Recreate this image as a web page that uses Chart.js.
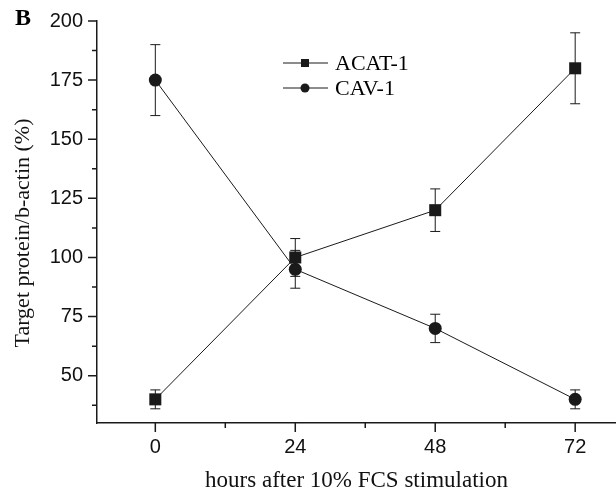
<!DOCTYPE html>
<html>
<head>
<meta charset="utf-8">
<script src="https://cdn.jsdelivr.net/npm/chart.js@4.4.1/dist/chart.umd.min.js"></script>
<style>
  html, body { margin: 0; padding: 0; background: #fff; overflow: hidden; }
  #wrap { width: 616px; height: 496px; }
</style>
</head>
<body>
<div id="wrap"><canvas id="time-chart"></canvas></div>
<script>
// values
const hours = [0, 24, 48, 72];
const acat = [40, 100, 120, 180];
const acatErr = [4, 8, 9, 15];
const cav = [175, 95, 70, 40];
const cavErr = [15, 8, 6, 4];

const xTicks = [0, 12, 24, 36, 48, 60, 72];
const xLabelled = [0, 24, 48, 72];
const yTicks = [37.5, 50, 62.5, 75, 87.5, 100, 112.5, 125, 137.5, 150, 162.5, 175, 187.5, 200];
const yLabelled = [50, 75, 100, 125, 150, 175, 200];

const ink = '#1a1a1a';

// error bars drawn through the chart scales
const errorBars = {
    id: 'errorBars',
    beforeDatasetsDraw(chart) {
        const ctx = chart.ctx;
        const xs = chart.scales.x, ys = chart.scales.y;
        ctx.save();
        ctx.strokeStyle = ink;
        ctx.lineWidth = 1;
        chart.data.datasets.forEach(ds => {
            ds.data.forEach((p, i) => {
                const px = xs.getPixelForValue(p.x);
                const top = ys.getPixelForValue(p.y + ds.err[i]);
                const bot = ys.getPixelForValue(p.y - ds.err[i]);
                ctx.beginPath();
                ctx.moveTo(px, top); ctx.lineTo(px, bot);
                ctx.moveTo(px - 5, top); ctx.lineTo(px + 5, top);
                ctx.moveTo(px - 5, bot); ctx.lineTo(px + 5, bot);
                ctx.stroke();
            });
        });
        ctx.restore();
    }
};

// outward ticks, long for labelled values and short for the others
const axisTicks = {
    id: 'axisTicks',
    afterDraw(chart) {
        const ctx = chart.ctx;
        const xs = chart.scales.x, ys = chart.scales.y;
        const area = chart.chartArea;
        ctx.save();
        ctx.strokeStyle = ink;
        ctx.lineWidth = 1.5;
        ctx.beginPath();
        xTicks.forEach(v => {
            const px = xs.getPixelForValue(v);
            const len = xLabelled.includes(v) ? 9 : 5;
            ctx.moveTo(px, area.bottom); ctx.lineTo(px, area.bottom + len);
        });
        yTicks.forEach(v => {
            const py = ys.getPixelForValue(v);
            const len = yLabelled.includes(v) ? 9 : 5;
            ctx.moveTo(area.left, py); ctx.lineTo(area.left - len, py);
        });
        ctx.stroke();
        ctx.restore();
    }
};

// inset legend and panel letter
const insetLegend = {
    id: 'insetLegend',
    afterDraw(chart) {
        const ctx = chart.ctx;
        ctx.save();
        ctx.fillStyle = '#000';
        ctx.font = 'bold 24px "Liberation Serif"';
        ctx.textBaseline = 'middle';
        ctx.fillText('B', 15, 19);

        ctx.font = '22px "Liberation Serif"';
        chart.data.datasets.forEach((ds, i) => {
            const y = 63 + i * 25;
            ctx.strokeStyle = ink;
            ctx.lineWidth = 1;
            ctx.beginPath();
            ctx.moveTo(283, y); ctx.lineTo(328, y);
            ctx.stroke();
            ctx.fillStyle = ink;
            if (ds.pointStyle === 'rect') {
                ctx.fillRect(301, y - 4, 8, 8);
            } else {
                ctx.beginPath();
                ctx.arc(305, y, 4.5, 0, Math.PI * 2);
                ctx.fill();
            }
            ctx.fillStyle = '#000';
            ctx.fillText(ds.label, 335, y + 1);
        });
        ctx.restore();
    }
};

new Chart(document.getElementById('time-chart'), {
    type: 'line',
    data: {
        datasets: [
            {
                label: 'ACAT-1',
                data: hours.map((h, i) => ({ x: h, y: acat[i] })),
                err: acatErr,
                borderColor: ink,
                borderWidth: 1,
                backgroundColor: ink,
                pointStyle: 'rect',
                pointRadius: 8.5,
                pointBorderWidth: 0,
                tension: 0
            },
            {
                label: 'CAV-1',
                data: hours.map((h, i) => ({ x: h, y: cav[i] })),
                err: cavErr,
                borderColor: ink,
                borderWidth: 1,
                backgroundColor: ink,
                pointStyle: 'circle',
                pointRadius: 6.5,
                pointBorderWidth: 0,
                tension: 0
            }
        ]
    },
    options: {
        responsive: true,
        maintainAspectRatio: false,
        animation: false,
        layout: { autoPadding: false, padding: { top: 21, right: 0, bottom: 0, left: 0 } },
        plugins: {
            legend: { display: false },
            tooltip: { enabled: false }
        },
        scales: {
            x: {
                type: 'linear',
                min: -10,
                max: 79,
                afterBuildTicks: s => { s.ticks = xTicks.map(v => ({ value: v })); },
                afterFit: s => { s.height = 73; s.paddingLeft = 0; s.paddingRight = 0; },
                grid: { display: false, drawTicks: false },
                border: { display: true, color: ink, width: 1.5 },
                ticks: {
                    padding: 12,
                    color: '#111',
                    font: { family: '"Liberation Sans"', size: 20 },
                    maxRotation: 0,
                    callback: v => xLabelled.includes(v) ? String(v) : ''
                },
                title: {
                    display: true,
                    text: 'hours after 10% FCS stimulation',
                    color: '#111',
                    font: { family: '"Liberation Serif"', size: 23 },
                    padding: { top: 0, bottom: 1 }
                }
            },
            y: {
                min: 30,
                max: 200,
                afterBuildTicks: s => { s.ticks = yTicks.map(v => ({ value: v })); },
                afterFit: s => { s.width = 97; s.paddingTop = 0; s.paddingBottom = 0; },
                grid: { display: false, drawTicks: false },
                border: { display: true, color: ink, width: 1.5 },
                ticks: {
                    padding: 14,
                    color: '#111',
                    font: { family: '"Liberation Sans"', size: 20 },
                    callback: v => yLabelled.includes(v) ? String(v) : ''
                },
                title: {
                    display: true,
                    text: 'Target protein/b-actin (%)    ',
                    color: '#111',
                    font: { family: '"Liberation Serif"', size: 22 },
                    padding: { top: 10, bottom: 0 }
                }
            }
        }
    },
    plugins: [errorBars, axisTicks, insetLegend]
});
</script>
</body>
</html>
